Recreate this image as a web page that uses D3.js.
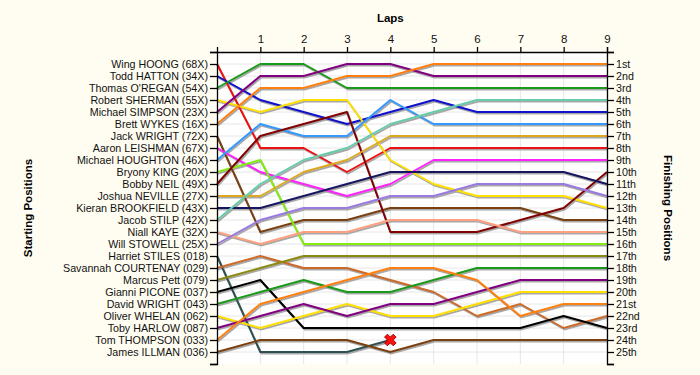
<!DOCTYPE html>
<html>
<head>
<meta charset="utf-8">
<script src="https://cdn.jsdelivr.net/npm/d3@7"></script>
<style>
  body { margin: 0; background: #fffdf2; }
  text { font-family: "Liberation Sans", Arial, sans-serif; }
</style>
</head>
<body>
<div id="chart"></div>
<script>
// Drivers in starting order (start position = index + 1)
let drivers = [
    "Wing HOONG (68X)", "Todd HATTON (34X)", "Thomas O'REGAN (54X)", "Robert SHERMAN (55X)",
    "Michael SIMPSON (23X)", "Brett WYKES (16X)", "Jack WRIGHT (72X)", "Aaron LEISHMAN (67X)",
    "Michael HOUGHTON (46X)", "Bryony KING (20X)", "Bobby NEIL (49X)", "Joshua NEVILLE (27X)",
    "Kieran BROOKFIELD (43X)", "Jacob STILP (42X)", "Niall KAYE (32X)", "Will STOWELL (25X)",
    "Harriet STILES (018)", "Savannah COURTENAY (029)", "Marcus Pett (079)", "Gianni PICONE (037)",
    "David WRIGHT (043)", "Oliver WHELAN (062)", "Toby HARLOW (087)", "Tom THOMPSON (033)",
    "James ILLMAN (036)"
];

let lineColors = [
    "#ee1111", "#1111cc", "#1a9a1a", "#ffe000", "#800080", "#ff8010", "#7a4010", "#ff22ff",
    "#3399ff", "#80ee10", "#800000", "#dda820", "#151560", "#66ccaa", "#ffa080", "#9a7ae0",
    "#2f5050", "#cc6a2a", "#8a8a10", "#000000", "#1a9a1a", "#ffe000", "#800080", "#ff8010",
    "#7a4010"
];

// Position at each lap (lap 0 = grid), null = retired
let positions = [
    [1, 8, 8, 10, 8, 8, 8, 8, 8, 8],
    [2, 4, 5, 6, 5, 4, 5, 5, 5, 5],
    [3, 1, 1, 3, 3, 3, 3, 3, 3, 3],
    [4, 5, 4, 4, 9, 11, 12, 12, 12, 13],
    [5, 2, 2, 1, 1, 2, 2, 2, 2, 2],
    [6, 3, 3, 2, 2, 1, 1, 1, 1, 1],
    [7, 15, 14, 14, 13, 13, 13, 13, 14, 14],
    [8, 10, 11, 12, 11, 9, 9, 9, 9, 9],
    [9, 6, 7, 7, 4, 6, 6, 6, 6, 6],
    [10, 9, 16, 16, 16, 16, 16, 16, 16, 16],
    [11, 7, 6, 5, 15, 15, 15, 14, 13, 10],
    [12, 12, 10, 9, 7, 7, 7, 7, 7, 7],
    [13, 13, 12, 11, 10, 10, 10, 10, 10, 11],
    [14, 11, 9, 8, 6, 5, 4, 4, 4, 4],
    [15, 16, 15, 15, 14, 14, 14, 15, 15, 15],
    [16, 14, 13, 13, 12, 12, 11, 11, 11, 12],
    [17, 25, 25, 25, 24, null, null, null, null, null],
    [18, 17, 18, 18, 19, 20, 22, 21, 23, 22],
    [19, 18, 17, 17, 17, 17, 17, 17, 17, 17],
    [20, 19, 23, 23, 23, 23, 23, 23, 22, 23],
    [21, 20, 19, 20, 20, 19, 18, 18, 18, 18],
    [22, 23, 22, 21, 22, 22, 21, 20, 20, 20],
    [23, 22, 21, 22, 21, 21, 20, 19, 19, 19],
    [24, 21, 20, 19, 18, 18, 19, 22, 21, 21],
    [25, 24, 24, 24, 25, 24, 24, 24, 24, 24]
];

let lapTicks = [1, 2, 3, 4, 5, 6, 7, 8, 9];

let finishLabels = [
    "1st", "2nd", "3rd", "4th", "5th", "6th", "7th", "8th", "9th", "10th",
    "11th", "12th", "13th", "14th", "15th", "16th", "17th", "18th", "19th", "20th",
    "21st", "22nd", "23rd", "24th", "25th"
];

// Retirements: driver index and lap where the X goes
let retired = [{ driver: 16, lap: 4 }];

let width = 700,
    height = 375,
    margin = { top: 52, right: 93, bottom: 11, left: 217 };

let svg = d3.select("#chart").append("svg")
    .attr("width", width)
    .attr("height", height);

svg.append("rect")
    .attr("width", width)
    .attr("height", height)
    .attr("fill", "#fffdf2");

let x = d3.scaleLinear().domain([0, 9]).range([margin.left, width - margin.right]);
let y = d3.scaleLinear().domain([0, 26]).range([margin.top, height - margin.bottom]);

// white plot area
svg.append("rect")
    .attr("x", x(0))
    .attr("y", y(0))
    .attr("width", x(9) - x(0))
    .attr("height", y(26) - y(0))
    .attr("fill", "#ffffff");

// gridlines
svg.append("g").selectAll("line")
    .data(d3.range(1, 26))
    .enter().append("line")
    .attr("x1", x(0)).attr("x2", x(9))
    .attr("y1", d => y(d)).attr("y2", d => y(d))
    .attr("stroke", "#e6e6e6");

svg.append("g").selectAll("line")
    .data(lapTicks)
    .enter().append("line")
    .attr("x1", d => x(d)).attr("x2", d => x(d))
    .attr("y1", y(0)).attr("y2", y(26))
    .attr("stroke", "#e6e6e6");

let line = d3.line()
    .defined(d => d.pos != null)
    .x(d => x(d.lap))
    .y(d => y(d.pos));

let series = positions.map((p, i) => ({
    color: lineColors[i],
    points: p.map((pos, lap) => ({ lap: lap, pos: pos }))
}));

// shadows first
svg.append("g")
    .attr("transform", "translate(1,1.5)")
    .selectAll("path")
    .data(series)
    .enter().append("path")
    .attr("d", d => line(d.points))
    .attr("fill", "none")
    .attr("stroke", "#a8a8a8")
    .attr("stroke-width", 2);

svg.append("g")
    .selectAll("path")
    .data(series)
    .enter().append("path")
    .attr("d", d => line(d.points))
    .attr("fill", "none")
    .attr("stroke", d => d.color)
    .attr("stroke-width", 2)
    .attr("stroke-linejoin", "round");

// retirement marker
svg.append("g").selectAll("path")
    .data(retired)
    .enter().append("path")
    .attr("transform", d => "translate(" + x(d.lap) + "," + y(positions[d.driver][d.lap]) + ") rotate(45)")
    .attr("d", d3.symbol().type(d3.symbolCross).size(85))
    .attr("fill", "#ff1010")
    .attr("stroke", "#880000")
    .attr("stroke-width", 0.8);

// axes
let leftAxis = svg.append("g")
    .attr("transform", "translate(" + x(0) + ",0)")
    .call(d3.axisLeft(y)
        .tickValues(d3.range(0, 27))
        .tickSizeOuter(0)
        .tickSize(7)
        .tickFormat(d => drivers[d - 1] || ""));

let rightAxis = svg.append("g")
    .attr("transform", "translate(" + x(9) + ",0)")
    .call(d3.axisRight(y)
        .tickValues(d3.range(0, 27))
        .tickSizeOuter(0)
        .tickSize(7)
        .tickFormat(d => finishLabels[d - 1] || ""));

let topAxis = svg.append("g")
    .attr("transform", "translate(0," + y(0) + ")")
    .call(d3.axisTop(x)
        .tickValues(lapTicks)
        .tickSizeOuter(0)
        .tickSize(5)
        .tickFormat(d3.format("d")));

[leftAxis, rightAxis, topAxis].forEach(function (a) {
    a.selectAll("path, line").attr("stroke", "#000").attr("stroke-width", 1.3);
    a.selectAll("text")
        .attr("fill", "#111")
        .style("font-size", "10.7px")
        .style("font-family", "'Liberation Sans', Arial, sans-serif");
});
leftAxis.selectAll("text").attr("x", -9);
rightAxis.selectAll("text").attr("x", 9);
topAxis.selectAll("text").attr("y", -9).style("font-size", "11.5px");

// titles
svg.append("text")
    .attr("x", x(4))
    .attr("y", 22)
    .attr("text-anchor", "middle")
    .style("font-size", "11.5px")
    .style("font-weight", "bold")
    .text("Laps");

svg.append("text")
    .attr("transform", "translate(32," + y(13) + ") rotate(-90)")
    .attr("text-anchor", "middle")
    .style("font-size", "11.5px")
    .style("font-weight", "bold")
    .text("Starting Positions");

svg.append("text")
    .attr("transform", "translate(664," + y(13) + ") rotate(90)")
    .attr("text-anchor", "middle")
    .style("font-size", "11.5px")
    .style("font-weight", "bold")
    .text("Finishing Positions");
</script>
</body>
</html>
